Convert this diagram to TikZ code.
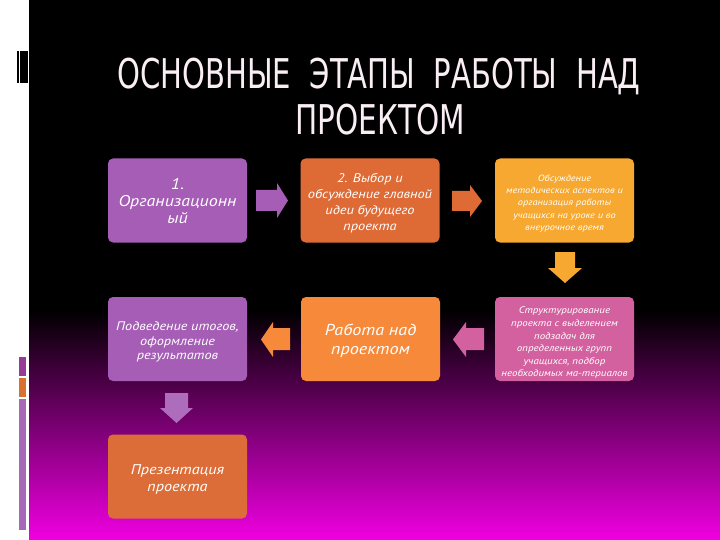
\documentclass[tikz,border=0pt]{standalone}
\usepackage{fontspec}
\setmainfont{PT Sans}
\newfontfamily\boxfont[FakeStretch=1.15]{PT Sans}
\newfontfamily\titlefont{DejaVu Sans}
\usetikzlibrary{calc}
\definecolor{bgmag}{RGB}{240,0,225}
\definecolor{bgmid}{RGB}{105,0,100}
\definecolor{cpurple}{RGB}{165,93,181}
\definecolor{corange}{RGB}{222,106,54}
\definecolor{cgold}{RGB}{246,168,48}
\definecolor{clorange}{RGB}{247,138,58}
\definecolor{cpink}{RGB}{212,97,159}
\definecolor{corange2}{RGB}{221,109,56}
\definecolor{stripp}{RGB}{168,104,184}
\definecolor{stripd}{RGB}{150,60,150}
\definecolor{stripo}{RGB}{216,112,48}
\definecolor{titlecol}{RGB}{250,238,245}
\tikzset{
  box/.style={rounded corners=5pt, inner sep=0pt, minimum width=139pt, minimum height=84pt},
  boxtext/.style={align=center, text=white, inner sep=0pt},
}
\begin{document}
\begin{tikzpicture}[x=1pt,y=-1pt]
\useasboundingbox (0,0) rectangle (720,540);
% background
\fill[white] (0,0) rectangle (720,540);
\fill[black] (29,0) rectangle (720,311);
\shade[top color=black, middle color=bgmid, bottom color=bgmag] (29,310) rectangle (720,540);
% left decorations
\fill[black] (17,51) rectangle (28,83);
\draw[white, line width=0.8pt] (19.5,51) -- (19.5,83);
\fill[stripd] (19,357) rectangle (26,376);
\fill[stripo] (19,377.5) rectangle (26,397);
\fill[stripp] (19,399) rectangle (26,530);
% title
\node[text=titlecol, font={\titlefont\fontsize{41}{46}\selectfont}, anchor=base] (t1) at (379,89)
  {\scalebox{0.71}[1]{ОСНОВНЫЕ\ \ ЭТАПЫ\ \ РАБОТЫ\ \ НАД}};
\node[text=titlecol, font={\titlefont\fontsize{41}{46}\selectfont}, anchor=base] (t2) at (380,135)
  {\scalebox{0.72}[1]{ПРОЕКТОМ}};
% boxes
\node[box, fill=cpurple]   (b1) at (177.5,200.5) {};
\node[box, fill=corange]   (b2) at (370,200.5) {};
\node[box, fill=cgold]     (b3) at (564.5,200.5) {};
\node[box, fill=cpurple]   (b4) at (177.5,339) {};
\node[box, fill=clorange]  (b5) at (370.5,339) {};
\node[box, fill=cpink]     (b6) at (564.5,339) {};
\node[box, fill=corange2]  (b7) at (177.5,476.5) {};
% box texts
\node[boxtext, font={\boxfont\itshape\fontsize{15.6}{17}\selectfont}] (b1t) at ([yshift=-1pt]b1.center)
  {1.\\Организационн\\ый};
\node[boxtext, font={\boxfont\itshape\fontsize{12.5}{16}\selectfont}] (b2t) at ([yshift=-3pt]b2.center)
  {2. Выбор и\\обсуждение главной\\идеи будущего\\проекта};
\node[boxtext, font={\boxfont\itshape\fontsize{9}{12.3}\selectfont}] (b3t) at ([yshift=-3pt]b3.center)
  {Обсуждение\\методических аспектов и\\организация работы\\учащихся на уроке и во\\внеурочное время};
\node[boxtext, font={\boxfont\itshape\fontsize{12.4}{14.5}\selectfont}] (b4t) at ([yshift=-3pt]b4.center)
  {Подведение итогов,\\оформление\\результатов};
\node[boxtext, font={\boxfont\itshape\fontsize{15.8}{19}\selectfont}] (b5t) at ([yshift=-2pt]b5.center)
  {Работа над\\проектом};
\node[boxtext, font={\boxfont\itshape\fontsize{9.5}{12.6}\selectfont}] (b6t) at ([yshift=-4pt]b6.center)
  {Структурирование\\проекта с выделением\\подзадач для\\определенных групп\\учащихся, подбор\\необходимых ма-териалов};
\node[boxtext, font={\boxfont\itshape\fontsize{14.1}{17}\selectfont}] (b7t) at ([yshift=-3pt]b7.center)
  {Презентация\\проекта};
% block arrows
\fill[cpurple] (256,190) -- (277,190) -- (277,183) -- (288,200.5) -- (277,218) -- (277,211) -- (256,211) -- cycle;
\fill[corange] (452,191) -- (470,191) -- (470,185) -- (482,201) -- (470,217) -- (470,211) -- (452,211) -- cycle;
\fill[cgold] (555,252) -- (575,252) -- (575,268) -- (582,268) -- (565,283) -- (548,268) -- (555,268) -- cycle;
\fill[clorange] (290,328) -- (273,328) -- (273,322) -- (261,339.5) -- (273,357) -- (273,350) -- (290,350) -- cycle;
\fill[cpink] (484,328) -- (466,328) -- (466,322) -- (453,339.5) -- (466,357) -- (466,350) -- (484,350) -- cycle;
\fill[cpurple!90!white] (165,393) -- (188,393) -- (188,408) -- (193,408) -- (176.5,423) -- (160,408) -- (165,408) -- cycle;
\end{tikzpicture}
\end{document}
